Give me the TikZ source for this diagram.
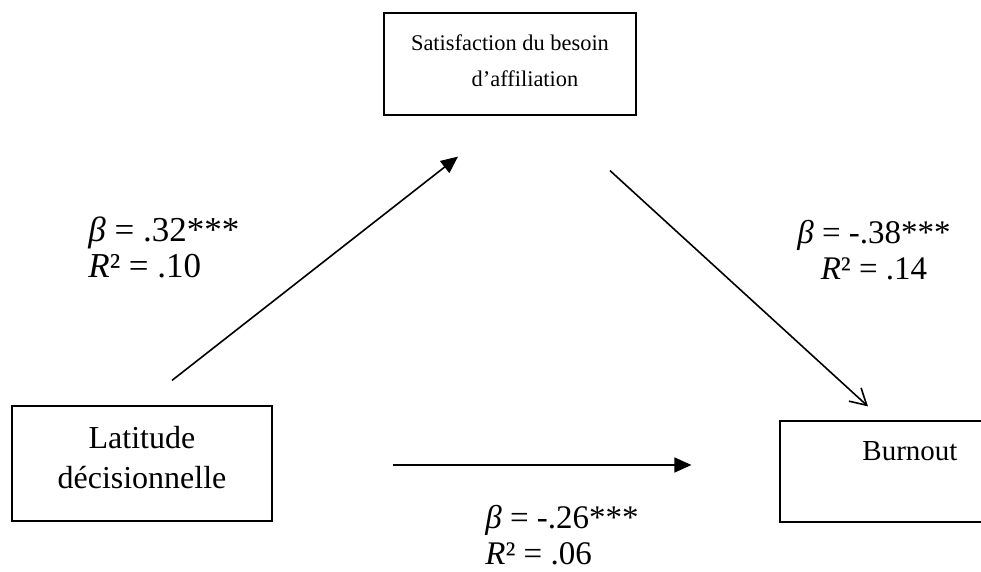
\documentclass[tikz,border=0pt]{standalone}
\usepackage{fontspec}
\setmainfont{Liberation Serif}
\usetikzlibrary{arrows.meta,positioning}

\begin{document}
\begin{tikzpicture}[x=0.5pt,y=-0.5pt,
  box/.style={draw, line width=0.6pt, inner sep=0pt, align=center},
  arr/.style={line width=0.8pt, -{Triangle[length=8.5pt,width=7.5pt]}},
  barb/.style={line width=0.8pt, -{Straight Barb[length=8pt,width=9pt]}},
  lbl/.style={inner sep=0pt, font=\fontsize{16.5}{18}\selectfont}]

% --- Frame ---
\useasboundingbox (0,0) rectangle (981,572);
\clip (0,0) rectangle (981,572);

% --- Variables ---
\node[box, minimum width=126pt, minimum height=51pt,
      font=\fontsize{11.2}{18}\selectfont] (sat) at (510,64)
    {Satisfaction du besoin\\\hspace*{15pt}d’affiliation\rule[-3.5pt]{0pt}{0pt}};
\node[box, minimum width=130pt, minimum height=57.5pt,
      font=\fontsize{16}{20}\selectfont] (lat) at (142,463.5)
    {Latitude\\décisionnelle\rule[-6pt]{0pt}{0pt}};
\node[box, minimum width=130pt, minimum height=50.5pt,
      font=\fontsize{14.5}{20}\selectfont] (burn) at (910,471.5)
    {Burnout\\~};

% --- Arrow ends ---
\coordinate (a1) at ([shift={(30,-25)}]lat.north);
\coordinate (b1) at ([shift={(-52,41)}]sat.south);
\coordinate (a2) at ([shift={(100,55)}]sat.south);
\coordinate (b2) at ([shift={(-42,-14)}]burn.north);
\coordinate (a3) at ([shift={(120,1.5)}]lat.east);
\coordinate (b3) at ([shift={(-88,-6.5)}]burn.west);

% --- Paths ---
\draw[arr] (a1) -- (b1);
\draw[barb] (a2) -- (b2);
\draw[arr] (a3) -- (b3);

% --- Coefficients ---
\node[lbl, anchor=west, align=left, font=\fontsize{17.5}{18}\selectfont] (l1) at (88,247)
    {\textit{β} = .32***\\\textit{R}² = .10};
\node[lbl, align=center] (l2) at (874,250)
    {\textit{β} = -.38***\\\textit{R}² = .14};
\node[lbl, anchor=west, align=left] (l3) at (485,535)
    {\textit{β} = -.26***\\\textit{R}² = .06};

\end{tikzpicture}
\end{document}
